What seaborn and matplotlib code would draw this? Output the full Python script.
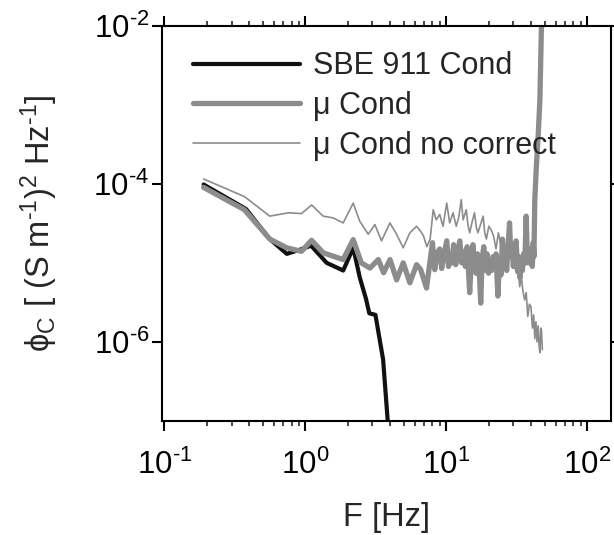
import numpy as np
import pandas as pd
import matplotlib
matplotlib.use("Agg")
import matplotlib.pyplot as plt
import matplotlib.ticker as mticker
import seaborn as sns

# ---------------- data ----------------
f_sbe = [0.19, 0.38, 0.56, 0.74, 0.92, 1.10, 1.42, 1.86, 2.19, 2.44, 2.70,
         2.85, 3.15, 3.57, 3.85, 4.0]
v_sbe = [9.8e-5, 4.8e-5, 2.0e-5, 1.3e-5, 1.47e-5, 1.65e-5, 1.0e-5, 8.0e-6,
         1.55e-5, 6.5e-6, 3.5e-6, 2.3e-6, 2.2e-6, 6e-7, 1e-7, 5e-8]

f_mu = [0.19, 0.37, 0.56, 0.74, 0.94, 1.11, 1.34, 1.86, 2.19, 2.50, 2.88,
        3.3, 3.6, 4.0, 4.45, 4.96, 5.53, 6.17, 6.6, 7.26,
        8.0, 8.3, 8.6, 9.0, 9.3, 9.6, 10.1, 10.4, 10.7, 11.0, 11.3, 11.7,
        12.1, 12.5, 12.9, 13.3, 13.7, 14.1, 14.7, 15.1, 15.5, 15.9, 16.3,
        16.7, 17.1, 17.6, 18.0, 18.5, 19.0, 19.5, 20.0, 20.5, 21.0, 21.5,
        22.0, 22.6, 23.3, 23.9, 24.5, 25.1, 25.7, 26.3, 26.9, 27.5, 28.2,
        28.8, 29.4, 30.0, 30.7, 31.4, 32.1, 32.8, 33.4, 34.1, 34.8, 35.5,
        36.2, 37.0, 37.8, 38.6, 39.4, 40.2, 40.9, 41.5, 42.0, 42.6, 43.7,
        45.0, 46.3, 47.5, 48.2]
v_mu = [9.0e-5, 4.7e-5, 2.0e-5, 1.55e-5, 1.4e-5, 1.93e-5, 1.34e-5, 1.1e-5,
        1.97e-5, 1.0e-5, 8.6e-6, 1.1e-5, 7.5e-6, 1.1e-5, 6.1e-6, 1.0e-5,
        5.6e-6, 9.5e-6, 8.2e-6, 4.8e-6,
        1.8e-5, 8.2e-6, 1.3e-5, 1.5e-5, 8.5e-6, 1.2e-5, 1.9e-5, 9e-6, 1.3e-5,
        1.0e-5, 1.7e-5, 9.5e-6, 1.4e-5, 1.9e-5, 1.0e-5, 1.4e-5, 9e-6, 1.6e-5,
        4.2e-6, 1.1e-5, 1.7e-5, 9e-6, 7.4e-6, 1.3e-5, 1.0e-5, 3.1e-6, 1.1e-5,
        1.6e-5, 8e-6, 1.3e-5, 7.4e-6, 1.1e-5, 8e-6, 1.2e-5, 9e-6, 1.3e-5,
        3.8e-6, 1.1e-5, 7e-6, 2.0e-5, 1.0e-5, 1.4e-5, 8e-6, 1.6e-5, 3.2e-5,
        1.2e-5, 1.6e-5, 9e-6, 1.4e-5, 1.9e-5, 8e-6, 1.2e-5, 6.5e-6, 1.1e-5,
        8e-6, 1.3e-5, 1.0e-5, 3.9e-5, 1.0e-5, 1.5e-5, 1.0e-5, 1.4e-5, 9e-6,
        1.8e-5, 1.2e-5, 6.3e-5, 1.66e-4, 4e-4, 1.15e-3, 1e-2, 3e-2]

f_raw = [0.19, 0.37, 0.56, 0.76, 0.94, 1.11, 1.34, 1.58, 1.86, 2.19, 2.44,
         2.80, 3.12, 3.48, 3.99, 4.45, 4.96, 5.53,
         6.17, 6.6, 6.9, 7.3, 7.7, 8.1, 8.5, 9.0, 9.5, 10.1, 10.6, 11.2, 11.8,
         12.3, 12.8, 13.2, 13.9, 14.3, 14.7, 15.3, 15.9, 16.4, 16.8, 17.5,
         18.3, 18.8, 19.3, 20.1, 20.9, 21.7, 22.6, 23.5, 24.4, 25.4, 26.5,
         27.3, 28.3, 29.0, 29.8, 30.6, 31.5, 32.3, 33.3, 34.2, 35.0, 36.1,
         37.0, 38.0, 39.0, 40.0, 41.0, 41.8, 42.6, 43.4, 44.2, 45.0, 45.7,
         46.3, 47.0, 47.5, 48.2]
v_raw = [1.15e-4, 6.9e-5, 3.9e-5, 4.3e-5, 4.2e-5, 5.4e-5, 3.9e-5, 3.7e-5,
         3.2e-5, 5.7e-5, 3.35e-5, 2.3e-5, 3.05e-5, 1.9e-5, 3.2e-5, 2.3e-5,
         1.55e-5, 2.4e-5,
         2.9e-5, 2.5e-5, 2.2e-5, 1.6e-5, 2.0e-5, 4.7e-5, 3.5e-5, 4.1e-5,
         2.9e-5, 5.7e-5, 3.2e-5, 4.3e-5, 2.9e-5, 3.8e-5, 6.3e-5, 3.5e-5,
         4.7e-5, 3.0e-5, 2.4e-5, 3.3e-5, 4.3e-5, 2.8e-5, 2.4e-5, 3.0e-5,
         3.9e-5, 2.4e-5, 2.0e-5, 2.9e-5, 2.6e-5, 2.2e-5, 1.5e-5, 2.4e-5,
         1.7e-5, 2.0e-5, 1.5e-5, 1.8e-5, 1.2e-5, 1.6e-5, 1.8e-5, 1.0e-5,
         7.4e-6, 9e-6, 5e-6, 6.8e-6, 4.5e-6, 3.4e-6, 4.2e-6, 2.1e-6, 3.0e-6,
         2.8e-6, 1.5e-6, 2.2e-6, 1.1e-6, 1.8e-6, 1.0e-6, 1.6e-6, 9e-7, 7.3e-7,
         1.5e-6, 1.4e-6, 8e-7]

labels = ["SBE 911 Cond", "\u03bc Cond", "\u03bc Cond no correct"]
x_ticks = [1e-1, 1e0, 1e1, 1e2]
y_ticks = [1e-6, 1e-4, 1e-2]

# ---------------- style ----------------
sns.set_style("ticks")
plt.rcParams["font.family"] = ["Liberation Sans", "DejaVu Sans"]
plt.rcParams["mathtext.fontset"] = "custom"
plt.rcParams["mathtext.rm"] = "Liberation Sans"
plt.rcParams["mathtext.it"] = "Liberation Sans:italic"
plt.rcParams["mathtext.bf"] = "Liberation Sans:bold"
plt.rcParams["axes.unicode_minus"] = False

FS_TICK = 22.5
FS_LAB = 23.5
FS_LEG = 22
gray = "#8c8c8c"


def pow10_label(v, pos):
    n = int(round(np.log10(v)))
    return r"$10^{\text{%d}}$" % n


fig = plt.figure(figsize=(6.14, 5.35), dpi=100)
ax = fig.add_axes([0.2634, 0.2131, 0.7317, 0.7389])

sns.lineplot(x=f_sbe, y=v_sbe, ax=ax, color="#111111", lw=3.0,
             label=labels[0], estimator=None, sort=False)
sns.lineplot(x=f_mu, y=v_mu, ax=ax, color=gray, lw=3.8,
             label=labels[1], estimator=None, sort=False)
sns.lineplot(x=f_raw, y=v_raw, ax=ax, color=gray, lw=1.2,
             label=labels[2], estimator=None, sort=False)

ax.set_xscale("log")
ax.set_yscale("log")
ax.set_xlim(0.0958, 148)
ax.set_ylim(1e-7, 1e-2)

ax.xaxis.set_major_locator(mticker.FixedLocator(x_ticks))
ax.xaxis.set_minor_locator(mticker.LogLocator(base=10, subs=np.arange(2, 10)))
ax.xaxis.set_minor_formatter(mticker.NullFormatter())
ax.yaxis.set_major_locator(mticker.FixedLocator(y_ticks))
ax.yaxis.set_minor_locator(mticker.NullLocator())
ax.xaxis.set_major_formatter(mticker.FuncFormatter(pow10_label))
ax.yaxis.set_major_formatter(mticker.FuncFormatter(pow10_label))

for s in ax.spines.values():
    s.set_linewidth(1.5)
    s.set_color("black")
ax.tick_params(which="major", direction="out", length=7, width=1.5,
               top=True, right=True, labelsize=FS_TICK, colors="black")
ax.tick_params(which="minor", direction="out", length=3.5, width=1.2,
               top=True, right=True)
ax.tick_params(axis="x", which="major", pad=14)
ax.tick_params(axis="y", which="major", pad=2)

ax.set_xlabel("F [Hz]", fontsize=FS_LAB)
ax.set_ylabel(r"$\mathrm{\phi_C}$ [ (S m$^{\text{-1}}$)$^2$ Hz$^{\text{-1}}$]",
              fontsize=FS_LAB)
ax.yaxis.set_label_coords(-0.226, 0.5)
ax.xaxis.set_label_coords(0.5, -0.205)

leg = ax.legend(loc="upper left", bbox_to_anchor=(0.07, 0.935), frameon=False,
                fontsize=FS_LEG, handlelength=3.5, handletextpad=0.42,
                labelspacing=0.32, borderpad=0, borderaxespad=0)

fig.savefig("out.png", dpi=100)
